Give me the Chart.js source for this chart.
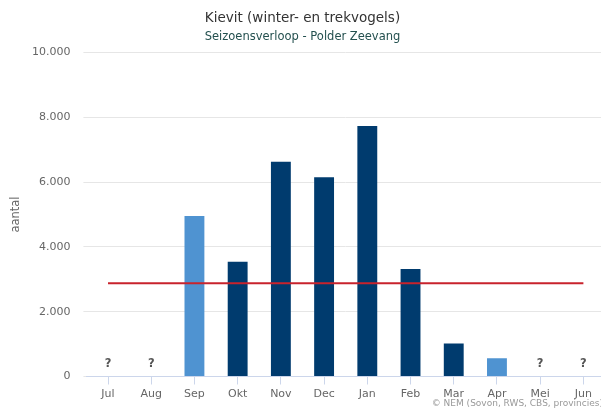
<!DOCTYPE html>
<html>
<head>
<meta charset="utf-8">
<script src="https://cdn.jsdelivr.net/npm/chart.js@4.4.1/dist/chart.umd.min.js"></script>
<style>
  html, body { margin: 0; padding: 0; background: #fff; overflow: hidden; }
  #wrap { width: 605px; height: 410px; }
</style>
</head>
<body>
<div id="wrap"><canvas id="seizoen" width="605" height="410"></canvas></div>
<script>
var maanden = ['Jul', 'Aug', 'Sep', 'Okt', 'Nov', 'Dec', 'Jan', 'Feb', 'Mar', 'Apr', 'Mei', 'Jun'];
// null = geen telling ('?')
var aantallen = [null, null, 4950, 3540, 6630, 6150, 7730, 3320, 1020, 560, null, null];
var onvolledig = ['Sep', 'Apr'];
var gemiddelde = 2880;
var yTicks = [0, 2000, 4000, 6000, 8000, 10000];

var donker = '#003b6e';
var licht = '#4f93d1';

function formatNL(v) {
    return v.toString().replace(/\B(?=(\d{3})+(?!\d))/g, '.');
}

var vraagtekens = {
    id: 'vraagtekens',
    afterDatasetsDraw: function(chart) {
        var ctx = chart.ctx;
        var x = chart.scales.x, y = chart.scales.y;
        ctx.save();
        ctx.font = 'bold 11.5px "DejaVu Sans"';
        ctx.fillStyle = '#555';
        ctx.textAlign = 'center';
        ctx.textBaseline = 'middle';
        aantallen.forEach(function(v, i) {
            if (v === null) ctx.fillText('?', x.getPixelForValue(i), y.getPixelForValue(0) - 12);
        });
        ctx.restore();
    }
};

var bron = {
    id: 'bron',
    afterDraw: function(chart) {
        var ctx = chart.ctx;
        ctx.save();
        ctx.font = '9px "DejaVu Sans"';
        ctx.fillStyle = '#999';
        ctx.textAlign = 'right';
        ctx.textBaseline = 'middle';
        ctx.fillText('\u00a9 NEM (Sovon, RWS, CBS, provincies)', 603, 404);
        ctx.restore();
    }
};

var ctx = document.getElementById('seizoen').getContext('2d');
var myChart = new Chart(ctx, {
    type: 'bar',
    data: {
        labels: maanden,
        datasets: [{
            type: 'line',
            data: maanden.map(function() { return gemiddelde; }),
            borderColor: '#c8232c',
            borderWidth: 2,
            pointRadius: 0,
            order: 0
        }, {
            data: aantallen,
            backgroundColor: maanden.map(function(m) { return onvolledig.indexOf(m) >= 0 ? licht : donker; }),
            barPercentage: 0.46,
            categoryPercentage: 1,
            order: 1
        }]
    },
    options: {
        responsive: false,
        animation: false,
        layout: { padding: { left: 0, right: 0, top: 0, bottom: 0 } },
        plugins: {
            legend: { display: false },
            tooltip: { enabled: false },
            title: {
                display: true,
                text: 'Kievit (winter- en trekvogels)',
                color: '#333',
                font: { family: 'DejaVu Sans', size: 13.5, weight: 'normal' },
                padding: { top: 10, bottom: 4 }
            },
            subtitle: {
                display: true,
                text: 'Seizoensverloop - Polder Zeevang',
                color: '#24504f',
                font: { family: 'DejaVu Sans', size: 11.5 },
                padding: { top: 0, bottom: 8.5 }
            }
        },
        scales: {
            x: {
                grid: { offset: false, drawOnChartArea: false, tickLength: 8, color: '#ccd6eb' },
                border: { color: '#ccd6eb' },
                ticks: { color: '#666', padding: 3, font: { family: 'DejaVu Sans', size: 11 } },
                afterFit: function(scale) { scale.height = 33.5; }
            },
            y: {
                min: 0,
                max: 10000,
                afterBuildTicks: function(scale) {
                    scale.ticks = yTicks.map(function(v) { return { value: v }; });
                },
                grid: { color: '#e6e6e6', tickLength: 3 },
                border: { display: false },
                ticks: {
                    color: '#666',
                    padding: 13,
                    font: { family: 'DejaVu Sans', size: 11 },
                    callback: function(v) { return formatNL(v); }
                },
                title: {
                    display: true,
                    text: 'aantal',
                    color: '#666',
                    font: { family: 'DejaVu Sans', size: 11.5 },
                    padding: { top: 9, bottom: 0 }
                },
                afterFit: function(scale) { scale.width = 86.4; }
            }
        }
    },
    plugins: [vraagtekens, bron]
});
</script>
</body>
</html>
